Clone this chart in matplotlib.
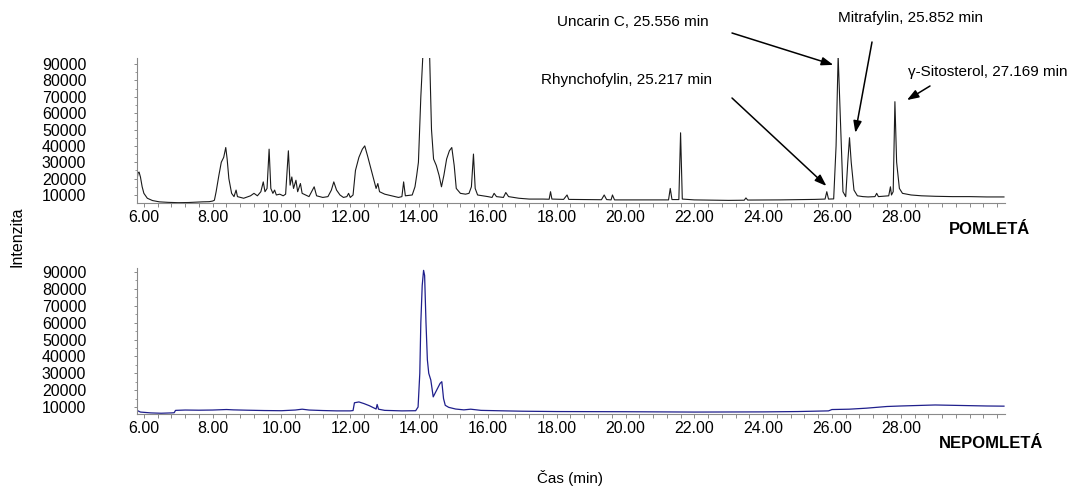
import matplotlib
matplotlib.use("Agg")
import matplotlib.pyplot as plt
from matplotlib.ticker import MultipleLocator, FixedLocator

plt.rcParams['font.family'] = ['Liberation Sans', 'DejaVu Sans']

# retention time axis (as labelled in the picture) and intensity
x_ticks = [6, 8, 10, 12, 14, 16, 18, 20, 22, 24, 26, 28]
x_labels = ["%.2f" % t for t in x_ticks]
y_ticks = [10000, 20000, 30000, 40000, 50000, 60000, 70000, 80000, 90000]

# ground sample (POMLETÁ)
ground_t = [5.80, 5.83, 5.86, 5.90, 5.95, 6.00, 6.10, 6.25, 6.45, 6.70, 7.00, 7.30, 7.50, 7.70, 7.90,
            8.00, 8.05, 8.10, 8.18, 8.25, 8.32, 8.38, 8.42, 8.47, 8.55, 8.62, 8.68, 8.72, 8.90, 9.10,
            9.20, 9.30, 9.40, 9.47, 9.52, 9.58, 9.64, 9.69, 9.75, 9.80, 9.85, 9.95, 10.05, 10.12, 10.20,
            10.25, 10.30, 10.35, 10.42, 10.47, 10.55, 10.60, 10.70, 10.80, 10.95, 11.02, 11.20, 11.35,
            11.45, 11.52, 11.60, 11.70, 11.80, 11.90, 11.95, 12.00, 12.08, 12.15, 12.25, 12.35, 12.42,
            12.50, 12.60, 12.70, 12.75, 12.80, 12.85, 13.00, 13.20, 13.40, 13.50, 13.55, 13.60, 13.80,
            13.88, 13.93, 13.98, 14.05, 14.12, 14.30, 14.36, 14.42, 14.50, 14.58, 14.65, 14.72, 14.80,
            14.88, 14.95, 15.02, 15.08, 15.20, 15.35, 15.45, 15.52, 15.58, 15.63, 15.70, 15.85, 16.00,
            16.12, 16.18, 16.25, 16.45, 16.52, 16.60, 16.90, 17.20, 17.60, 17.78, 17.82, 17.86, 18.20,
            18.30, 18.35, 18.80, 19.30, 19.38, 19.45, 19.58, 19.62, 19.68, 20.50, 21.00, 21.25, 21.30,
            21.35, 21.55, 21.60, 21.65, 22.00, 23.00, 23.45, 23.50, 23.55, 24.50, 25.50, 25.80, 25.85,
            25.90, 26.05, 26.12, 26.18, 26.24, 26.32, 26.40, 26.46, 26.51, 26.56, 26.64, 26.74, 26.90,
            27.05, 27.25, 27.30, 27.35, 27.65, 27.70, 27.73, 27.78, 27.83, 27.88, 27.96, 28.05, 28.30,
            28.60, 29.00, 29.50, 30.00, 30.50, 31.00]
ground_i = [19000, 23500, 24000, 21000, 15000, 11000, 8000, 6600, 5800, 5500, 5300, 5400, 5600, 5800, 5900,
            6300, 6800, 12000, 22000, 30000, 33000, 39000, 32000, 20000, 11000, 9000, 13000, 9000, 8000, 9500,
            11000, 9500, 12000, 18000, 12000, 14000, 38000, 14000, 11000, 13000, 10000, 10500, 9500, 10500, 37000,
            16000, 21000, 14000, 19000, 12000, 17000, 11000, 10000, 9000, 15000, 9500, 8500, 9000,
            13000, 18000, 13000, 10000, 8500, 9000, 11000, 8500, 10000, 25000, 33000, 38000, 40000,
            34000, 26000, 18000, 14000, 17000, 12000, 10500, 9500, 8500, 9000, 18000, 9500, 10000,
            15000, 22000, 30000, 70000, 100000, 100000, 50000, 32000, 28000, 22000, 15000, 22000, 32000,
            37000, 39000, 28000, 14000, 11000, 10500, 11000, 15000, 35000, 14000, 10000, 9500, 9000,
            8500, 11000, 9000, 8500, 11500, 9000, 8000, 7500, 7500, 7400, 12000, 7500, 7300,
            10000, 7300, 7200, 7100, 10000, 7200, 7000, 10000, 7000, 7000, 7000, 7000, 14000,
            7200, 7200, 48000, 7500, 7000, 6700, 6800, 8200, 6900, 7000, 7300, 7500, 12000,
            7500, 7600, 40000, 95000, 60000, 12000, 9000, 30000, 45000, 30000, 13000, 9500, 9000,
            8800, 9000, 11000, 9000, 9500, 15000, 10000, 12000, 67000, 30000, 14000, 11000, 10000,
            9500, 9200, 9000, 9000, 8800, 8800]

# unground sample (NEPOMLETÁ)
unground_t = [5.80, 5.90, 6.20, 6.50, 6.80, 6.88, 6.92, 7.20, 7.60, 8.00, 8.40, 8.60, 9.00, 9.50, 10.00,
              10.40, 10.60, 10.80, 11.20, 11.60, 12.00, 12.08, 12.12, 12.25, 12.40, 12.55, 12.70, 12.75,
              12.78, 12.82, 13.00, 13.50, 13.90, 13.97, 14.02, 14.05, 14.09, 14.13, 14.16, 14.20, 14.24,
              14.28, 14.34, 14.41, 14.51, 14.61, 14.66, 14.71, 14.76, 14.86, 15.06, 15.30, 15.50, 15.80,
              16.50, 17.00, 18.00, 20.00, 22.00, 24.00, 25.00, 25.90, 26.00, 26.50, 27.00, 27.60, 28.00,
              28.50, 29.00, 29.50, 30.00, 30.50, 31.00]
unground_i = [8000, 7000, 6500, 6300, 6500, 6600, 8000, 8200, 8100, 8200, 8500, 8300, 8100, 7900, 7800,
              8200, 8700, 8200, 7900, 7700, 7700, 7900, 12500, 13000, 12000, 10800, 9300, 8800,
              11500, 8700, 8000, 7700, 7800, 10000, 30000, 60000, 82000, 91000, 88000, 60000, 38000,
              30000, 26000, 16000, 20000, 24000, 25000, 15000, 11000, 9800, 8800, 8300, 8700, 8000,
              7700, 7500, 7300, 7200, 7000, 7100, 7300, 7700, 8500, 8700, 9300, 10300, 10600,
              10900, 11200, 11000, 10800, 10600, 10500]

# annotated peaks in the ground sample: label, arrow head (t, intensity), arrow tail / text in pixels
peak_names = ["Uncarin C, 25.556 min", "Rhynchofylin, 25.217 min",
              "Mitrafylin, 25.852 min", "\u03b3-Sitosterol, 27.169 min"]
peak_heads = [(26.04, 89500), (25.84, 15500), (26.68, 48000), (28.18, 68000)]
peak_tails = [(732, 454), (732, 389), (872, 445), (930, 401)]
peak_text = [(557, 465), (541, 407), (838, 469), (908, 415)]

W, H = 1068, 487
fig = plt.figure(figsize=(W / 100, H / 100), dpi=100)

spine_col = "#8a8a8a"


def style_axis(ax, ylo, yhi):
    ax.set_xlim(5.8, 31.03)
    ax.set_ylim(ylo, yhi)
    for s in ["top", "right"]:
        ax.spines[s].set_visible(False)
    for s in ["left", "bottom"]:
        ax.spines[s].set_color(spine_col)
        ax.spines[s].set_linewidth(0.8)
    ax.xaxis.set_major_locator(FixedLocator(x_ticks))
    ax.set_xticklabels(x_labels)
    ax.xaxis.set_minor_locator(MultipleLocator(0.4))
    ax.yaxis.set_major_locator(FixedLocator(y_ticks))
    ax.set_yticklabels([str(v) for v in y_ticks])
    ax.yaxis.set_minor_locator(MultipleLocator(5000))
    ax.tick_params(axis="x", which="both", direction="out", length=3, width=0.7,
                   color=spine_col, labelsize=11.5, pad=2)
    ax.tick_params(axis="y", which="major", direction="out", length=2.5, width=0.7,
                   color=spine_col, labelsize=11.5, pad=34)
    ax.tick_params(axis="y", which="minor", direction="out", length=1.5, width=0.6,
                   color=spine_col)
    ax.patch.set_alpha(0)


ax1 = fig.add_axes([137 / W, 1 - 203 / H, 868 / W, 145 / H])
ax1.plot(ground_t, ground_i, color="#1a1a1a", lw=0.8)
style_axis(ax1, 5100, 93700)

ax2 = fig.add_axes([137 / W, 1 - 414 / H, 868 / W, 146 / H])
ax2.plot(unground_t, unground_i, color="#1f1f8c", lw=0.9)
style_axis(ax2, 5850, 92400)

# peak labels with arrows
for name, head, tail, txt in zip(peak_names, peak_heads, peak_tails, peak_text):
    ax1.annotate("", xy=head, xycoords="data", xytext=tail, textcoords="figure pixels",
                 arrowprops=dict(arrowstyle="-|>,head_length=0.7,head_width=0.25",
                                 color="black", lw=1.1, shrinkA=0, shrinkB=0),
                 annotation_clip=False)
    fig.text(txt[0] / W, txt[1] / H, name, fontsize=11, ha="left", va="center")

fig.text(990 / W, 1 - 229 / H, "POMLETÁ", fontsize=12, fontweight="bold", ha="center", va="center")
fig.text(991 / W, 1 - 444 / H, "NEPOMLETÁ", fontsize=12, fontweight="bold", ha="center", va="center")
fig.text(17 / W, 1 - 237 / H, "Intenzita", fontsize=11.5, rotation=90, ha="center", va="center")
fig.text(570 / W, 1 - 478 / H, "Čas (min)", fontsize=11, ha="center", va="center")

fig.savefig("out.png", dpi=100)
